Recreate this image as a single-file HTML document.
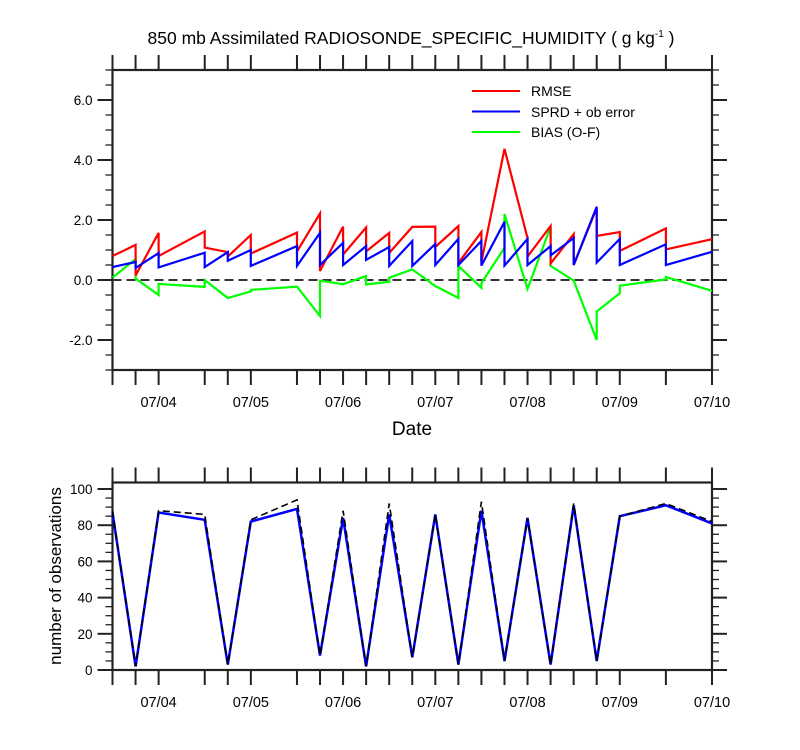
<!DOCTYPE html>
<html><head><meta charset="utf-8">
<style>
html,body{margin:0;padding:0;background:#fff;}
svg{display:block;font-family:"Liberation Sans",sans-serif;}
</style></head>
<body>
<svg id="chart" width="800" height="750" viewBox="0 0 800 750" xmlns="http://www.w3.org/2000/svg">
<text x="411" y="44" font-size="17.5" text-anchor="middle">850 mb Assimilated RADIOSONDE_SPECIFIC_HUMIDITY ( g kg<tspan font-size="10" dy="-7">-1</tspan><tspan dy="7"> )</tspan></text>
<g id="top"></g>
<g id="bot"></g>
<text x="412" y="435" font-size="19" text-anchor="middle">Date</text>
<text transform="translate(61,576) rotate(-90)" font-size="17" text-anchor="middle">number of observations</text>
<g>
<line x1="472" y1="91" x2="520" y2="91" stroke="#f00" stroke-width="2"/>
<text x="531" y="96" font-size="14">RMSE</text>
<line x1="472" y1="111.5" x2="520" y2="111.5" stroke="#00f" stroke-width="2"/>
<text x="531" y="117" font-size="14">SPRD + ob error</text>
<line x1="472" y1="132" x2="520" y2="132" stroke="#0f0" stroke-width="2"/>
<text x="531" y="137" font-size="14">BIAS (O-F)</text>
</g>
</svg>
<script>
// ---- data ----
const obsTimes = [3.5,3.75,4.0,4.5,4.75,5.0,5.5,5.75,6.0,6.25,6.5,6.75,7.0,7.25,7.5,7.75,8.0,8.25,8.5,8.75,9.0,9.5,10.0];
const dayTicks = [4,5,6,7,8,9,10];
const dayLabels = ["07/04","07/05","07/06","07/07","07/08","07/09","07/10"];
const topYTicks = [-2,0,2,4,6];
const topYLabels = ["-2.0","0.0","2.0","4.0","6.0"];
const botYTicks = [0,20,40,60,80,100];

const rmseT = [3.5,3.75,3.75,4.0,4.0,4.5,4.5,4.75,4.75,5.0,5.0,5.5,5.5,5.75,5.75,6.0,6.0,6.25,6.25,6.5,6.5,6.75,7.0,7.0,7.25,7.25,7.5,7.5,7.75,8.0,8.0,8.25,8.25,8.5,8.5,8.75,8.75,9.0,9.0,9.5,9.5,10.0];
const rmseV = [0.8,1.17,0.15,1.57,0.8,1.62,1.08,0.93,0.78,1.5,0.88,1.58,0.95,2.22,0.3,1.78,0.85,1.75,0.95,1.57,0.9,1.77,1.78,1.1,1.8,0.57,1.6,0.6,4.37,1.4,0.78,1.8,0.55,1.53,0.5,2.4,1.47,1.6,0.97,1.72,1.02,1.36];
const sprdT = [3.5,3.75,3.75,4.0,4.0,4.5,4.5,4.75,4.75,5.0,5.0,5.5,5.5,5.75,5.75,6.0,6.0,6.25,6.25,6.5,6.5,6.75,6.75,7.0,7.0,7.25,7.25,7.5,7.5,7.75,7.75,8.0,8.0,8.25,8.25,8.5,8.5,8.75,8.75,9.0,9.0,9.5,9.5,10.0];
const sprdV = [0.43,0.6,0.4,0.9,0.42,0.91,0.43,0.93,0.64,1.0,0.47,1.13,0.47,1.57,0.5,1.24,0.5,1.13,0.67,1.1,0.47,1.3,0.47,1.2,0.5,1.37,0.5,1.3,0.48,1.94,0.48,1.37,0.5,1.13,0.82,1.4,0.5,2.44,0.58,1.37,0.5,1.19,0.5,0.94];
const biasT = [3.5,3.75,3.75,4.0,4.0,4.5,4.5,4.75,5.0,5.0,5.5,5.75,5.75,6.0,6.25,6.25,6.5,6.5,6.75,7.0,7.25,7.25,7.5,7.5,7.75,7.75,8.0,8.25,8.25,8.5,8.75,8.75,9.0,9.0,9.5,9.5,10.0];
const biasV = [0.08,0.7,0.05,-0.5,-0.13,-0.23,0.0,-0.6,-0.38,-0.33,-0.22,-1.2,-0.02,-0.14,0.13,-0.15,-0.06,0.08,0.35,-0.2,-0.6,0.47,-0.26,-0.1,1.07,2.2,-0.3,1.77,0.47,-0.02,-2.0,-1.05,-0.44,-0.19,0.02,0.1,-0.36];
const obsUsed = [87,2,87,83,3,82,89,8,84,2,86,7,86,3,88,5,84,3,91,5,85,91,81];
const obsTotal = [88,2,88,86,3,83,94,8,88,2,92,7,86,3,93,5,84,3,92,5,85,92,82];

// ---- layout ----
const NS = "http://www.w3.org/2000/svg";
const X0 = 112.5, X1 = 712, T0 = 3.5, T1 = 10.0;
const xs = t => X0 + (t - T0) / (T1 - T0) * (X1 - X0);
const TOP = {y0:70, y1:370, v0:-3, v1:7};
const BOT = {y0:482.5, y1:670, v0:0, v1:103.6};
const ys = (p, v) => p.y1 - (v - p.v0) / (p.v1 - p.v0) * (p.y1 - p.y0);

function mk(parent, tag, attrs) {
  const e = document.createElementNS(NS, tag);
  for (const k in attrs) e.setAttribute(k, attrs[k]);
  parent.appendChild(e);
  return e;
}

function frame(g, p, yTicks, yLabels, minorStep, name) {
  const border = mk(g, "rect", {x:X0, y:p.y0, width:X1-X0, height:p.y1-p.y0, fill:"none", stroke:"#222", "stroke-width":2.2});
  
  
  obsTimes.forEach(t => {
    const x = xs(t);
    const a = mk(g, "line", {x1:x, y1:p.y1, x2:x, y2:p.y1+15, stroke:"#222", "stroke-width":2});
    
    
    const b = mk(g, "line", {x1:x, y1:p.y0, x2:x, y2:p.y0-15, stroke:"#222", "stroke-width":2});
    
    
  });
  dayTicks.forEach((d, i) => {
    const tx = mk(g, "text", {x:xs(d), y:p.y1+37, "font-size":14.5, "text-anchor":"middle"});
    tx.textContent = dayLabels[i];
    
    
  });
  for (let v = p.v0; v <= p.v1 + 1e-9; v += minorStep) {
    const y = ys(p, v);
    if (y < p.y0 - 0.5) continue;
    const isMajor = yTicks.some(t => Math.abs(t - v) < 1e-6);
    const len = isMajor ? 15 : 7;
    const l = mk(g, "line", {x1:X0, y1:y, x2:X0-len, y2:y, stroke:"#222", "stroke-width":isMajor?2:1.3});
    
    
    const r = mk(g, "line", {x1:X1, y1:y, x2:X1+len, y2:y, stroke:"#222", "stroke-width":isMajor?2:1.3});
    
    
  }
  yTicks.forEach((v, i) => {
    const tx = mk(g, "text", {x:X0-20, y:ys(p, v)+5, "font-size":13.5, "text-anchor":"end"});
    tx.textContent = yLabels[i];
    
    
  });
}

function series(g, p, ts, vs, color, width, dash, name) {
  const pts = ts.map((t, i) => xs(t).toFixed(1) + "," + ys(p, vs[i]).toFixed(1)).join(" ");
  const attrs = {points:pts, fill:"none", stroke:color, "stroke-width":width, "stroke-linejoin":"miter"};
  if (dash) attrs["stroke-dasharray"] = dash;
  const pl = mk(g, "polyline", attrs);
  
  
}

const gt = document.getElementById("top");
const gb = document.getElementById("bot");
frame(gt, TOP, topYTicks, topYLabels, 0.5, "top");
const zero = mk(gt, "line", {x1:X0, y1:ys(TOP,0), x2:X1, y2:ys(TOP,0), stroke:"#333", "stroke-width":2, "stroke-dasharray":"9,5"});


series(gt, TOP, biasT, biasV, "#00ff00", 2.2, null, "bias-line");
series(gt, TOP, rmseT, rmseV, "#ff0000", 2.2, null, "rmse-line");
series(gt, TOP, sprdT, sprdV, "#0000ff", 2.2, null, "sprd-line");

frame(gb, BOT, botYTicks, botYTicks.map(String), 5, "bottom");
series(gb, BOT, obsTimes, obsUsed, "#0000ff", 2.5, null, "obs-used-line");
series(gb, BOT, obsTimes, obsTotal, "#000", 1.6, "7,4", "obs-total-line");
</script>
</body></html>
